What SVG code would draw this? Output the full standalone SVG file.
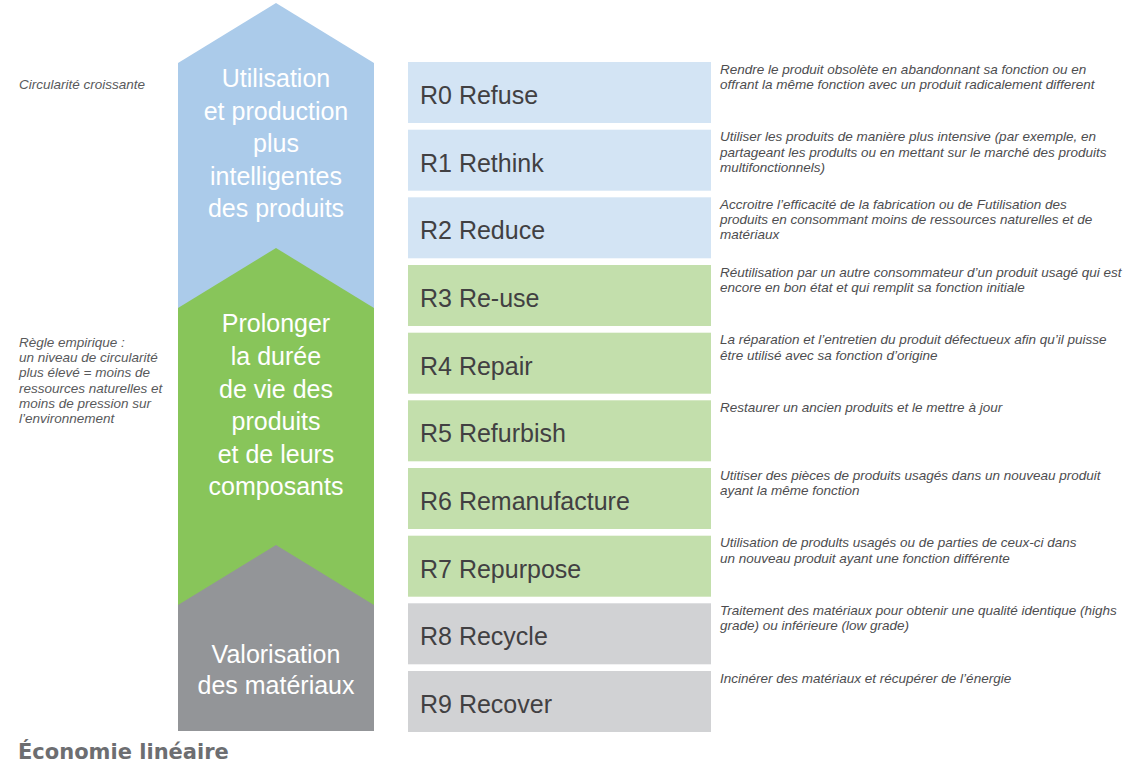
<svg xmlns="http://www.w3.org/2000/svg" width="1144" height="768" viewBox="0 0 1144 768">
<style>
.box-b{fill:#d3e4f4}
.box-g{fill:#c3dfac}
.box-y{fill:#d1d2d4}
.lbl{font-family:"Liberation Sans",Arial,sans-serif;font-size:25px;fill:#414042}
.desc{font-family:"Liberation Sans",Arial,sans-serif;font-size:13.5px;font-style:italic;fill:#4d4d4f}
.side{font-family:"Liberation Sans",Arial,sans-serif;font-size:13.5px;font-style:italic;fill:#58595b}
.arw{font-family:"Liberation Sans",Arial,sans-serif;font-size:25px;fill:#ffffff;text-anchor:middle}
</style>
<rect width="1144" height="768" fill="#ffffff"/>

<g id="arrow-blue">
<polygon points="178,63 276,3 374,63 374,312 178,312" fill="#abcbea"/>
<text class="arw" x="276" y="87">Utilisation</text>
<text class="arw" x="276" y="119.5">et production</text>
<text class="arw" x="276" y="152">plus</text>
<text class="arw" x="276" y="184.5">intelligentes</text>
<text class="arw" x="276" y="217">des produits</text>
</g>
<g id="arrow-green">
<polygon points="178,308 276,248 374,308 374,609 178,609" fill="#88c55a"/>
<text class="arw" x="276" y="332">Prolonger</text>
<text class="arw" x="276" y="365">la durée</text>
<text class="arw" x="276" y="397.5">de vie des</text>
<text class="arw" x="276" y="430">produits</text>
<text class="arw" x="276" y="462.5">et de leurs</text>
<text class="arw" x="276" y="495">composants</text>
</g>
<g id="arrow-gray">
<polygon points="178,605 276,545 374,605 374,731 178,731" fill="#939598"/>
<text class="arw" x="276" y="663">Valorisation</text>
<text class="arw" x="276" y="694">des matériaux</text>
</g>

<g id="side-notes">
<text class="side" x="19" y="89">Circularité croissante</text>
<text class="side" x="19" y="347">Règle empirique :</text>
<text class="side" x="19" y="362.2">un niveau de circularité</text>
<text class="side" x="19" y="377.4">plus élevé = moins de</text>
<text class="side" x="19" y="392.6">ressources naturelles et</text>
<text class="side" x="19" y="407.8">moins de pression sur</text>
<text class="side" x="19" y="423">l’environnement</text>
</g>

<g id="r0">
<rect class="box-b" x="408" y="62" width="303" height="61"/>
<text class="lbl" x="420" y="104">R0 Refuse</text>
<text class="desc" x="720" y="73.5">Rendre le produit obsolète en abandonnant sa fonction ou en</text>
<text class="desc" x="720" y="88.8">offrant la même fonction avec un produit radicalement different</text>
</g>
<g id="r1">
<rect class="box-b" x="408" y="129.7" width="303" height="61"/>
<text class="lbl" x="420" y="171.7">R1 Rethink</text>
<text class="desc" x="720" y="141.2">Utiliser les produits de manière plus intensive (par exemple, en</text>
<text class="desc" x="720" y="156.5">partageant les prodults ou en mettant sur le marché des produits</text>
<text class="desc" x="720" y="171.8">multifonctionnels)</text>
</g>
<g id="r2">
<rect class="box-b" x="408" y="197.3" width="303" height="61"/>
<text class="lbl" x="420" y="239.3">R2 Reduce</text>
<text class="desc" x="720" y="208.8">Accroitre l’efficacité de la fabrication ou de Futilisation des</text>
<text class="desc" x="720" y="224.1">produits en consommant moins de ressources naturelles et de</text>
<text class="desc" x="720" y="239.4">matériaux</text>
</g>
<g id="r3">
<rect class="box-g" x="408" y="265" width="303" height="61"/>
<text class="lbl" x="420" y="307">R3 Re-use</text>
<text class="desc" x="720" y="276.5">Réutilisation par un autre consommateur d’un produit usagé qui est</text>
<text class="desc" x="720" y="291.8">encore en bon état et qui remplit sa fonction initiale</text>
</g>
<g id="r4">
<rect class="box-g" x="408" y="332.7" width="303" height="61"/>
<text class="lbl" x="420" y="374.7">R4 Repair</text>
<text class="desc" x="720" y="344.2">La réparation et l’entretien du produit défectueux afin qu’il puisse</text>
<text class="desc" x="720" y="359.5">être utilisé avec sa fonction d’origine</text>
</g>
<g id="r5">
<rect class="box-g" x="408" y="400.3" width="303" height="61"/>
<text class="lbl" x="420" y="442.3">R5 Refurbish</text>
<text class="desc" x="720" y="411.8">Restaurer un ancien produits et le mettre à jour</text>
</g>
<g id="r6">
<rect class="box-g" x="408" y="468" width="303" height="61"/>
<text class="lbl" x="420" y="510">R6 Remanufacture</text>
<text class="desc" x="720" y="479.5">Utitiser des pièces de produits usagés dans un nouveau produit</text>
<text class="desc" x="720" y="494.8">ayant la même fonction</text>
</g>
<g id="r7">
<rect class="box-g" x="408" y="535.7" width="303" height="61"/>
<text class="lbl" x="420" y="577.7">R7 Repurpose</text>
<text class="desc" x="720" y="547.2">Utilisation de prodults usagés ou de parties de ceux-ci dans</text>
<text class="desc" x="720" y="562.5">un nouveau produit ayant une fonction différente</text>
</g>
<g id="r8">
<rect class="box-y" x="408" y="603.3" width="303" height="61"/>
<text class="lbl" x="420" y="645.3">R8 Recycle</text>
<text class="desc" x="720" y="614.8">Traitement des matériaux pour obtenir une qualité identique (highs</text>
<text class="desc" x="720" y="630.1">grade) ou inférieure (low grade)</text>
</g>
<g id="r9">
<rect class="box-y" x="408" y="671" width="303" height="61"/>
<text class="lbl" x="420" y="713">R9 Recover</text>
<text class="desc" x="720" y="682.5">Incinérer des matériaux et récupérer de l’énergie</text>
</g>

<g id="connectors"></g>

<g id="footer">
<text x="18" y="759" font-family="'DejaVu Sans','Liberation Sans',sans-serif" font-size="21" font-weight="bold" fill="#6d6e71">Économie linéaire</text>
</g>
</svg>
